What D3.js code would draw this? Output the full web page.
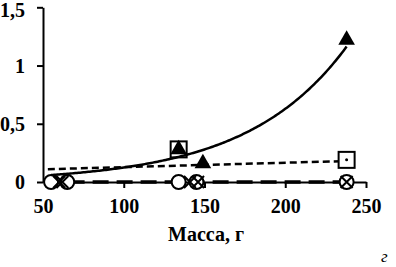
<!DOCTYPE html>
<html><head><meta charset="utf-8">
<script src="https://cdn.jsdelivr.net/npm/d3@7"></script>
<style>body{margin:0;background:#fff}svg{display:block}</style>
</head><body>
<script>
// ---- data ----
const xTicks = [50, 100, 150, 200, 250];
const yTicks = [0, 0.5, 1, 1.5];
const yTickLabels = ["0", "0,5", "1", "1,5"];
const xTitle = "Масса, г";
const panelLabel = "г";

const circleMass = [55, 65, 134, 145, 238];
const circleVals = [0, 0, 0, 0, 0];
const crossMass = [60, 62, 141, 146, 238];
const crossVals = [0, 0, 0, 0, 0];
const squareMass = [134, 238];
const squareVals = [0.28, 0.19];
const triangleMass = [134, 149, 238];
const triangleVals = [0.28, 0.16, 1.22];

// trend lines
const expTrendA = 0.0246, expTrendB = 0.0162;        // solid exponential (triangles)
const expTrendRange = [55, 238];
const linTrend = [[53, 0.11], [238, 0.18]];          // short-dash (squares)
const zeroTrend = [[51, 0.0], [238, 0.0]];           // long-dash (circles)

// ---- drawing ----
const W = 396, H = 267;
const svg = d3.select("body").append("svg").attr("width", W).attr("height", H);
const x = d3.scaleLinear().domain([50, 250]).range([43, 366]);
const y = d3.scaleLinear().domain([0, 1.5]).range([182, 7.3]);
const font = "'Liberation Serif','Times New Roman',serif";

// axes
const xAxis = svg.append("g").attr("transform", "translate(0,182)")
  .call(d3.axisBottom(x).tickValues(xTicks).tickSize(6).tickSizeOuter(0).tickPadding(11));
const yAxis = svg.append("g").attr("transform", "translate(43,0)")
  .call(d3.axisLeft(y).tickValues(yTicks).tickSize(6).tickSizeOuter(0).tickPadding(12)
    .tickFormat((d, i) => yTickLabels[i]));
[xAxis, yAxis].forEach(g => {
  g.select(".domain").attr("stroke", "#000").attr("stroke-width", 2);
  g.selectAll(".tick line").attr("stroke", "#000").attr("stroke-width", 2);
  g.selectAll("text").attr("font-family", font).attr("font-weight", "bold")
    .attr("font-size", 20).attr("fill", "#000");
});
yAxis.selectAll("text").attr("dy", d => d === 1.5 ? "0.45em" : "0.34em");
xAxis.selectAll(".tick").filter(d => d === 50).select("line").remove();

// trend lines
const line = d3.line().x(d => x(d[0])).y(d => y(d[1]));
const expPts = d3.range(expTrendRange[0], expTrendRange[1] + 0.5, 1)
  .map(m => [m, expTrendA * Math.exp(expTrendB * m)]);
svg.append("path").attr("d", line(zeroTrend)).attr("fill", "none")
  .attr("stroke", "#000").attr("stroke-width", 3.5).attr("stroke-dasharray", "16,8");
svg.append("path").attr("d", line(linTrend)).attr("fill", "none")
  .attr("stroke", "#000").attr("stroke-width", 2.5).attr("stroke-dasharray", "7,4");

// circles
svg.append("g").selectAll("circle").data(circleMass).join("circle")
  .attr("cx", (d) => x(d)).attr("cy", (d, i) => y(circleVals[i])).attr("r", 7)
  .attr("fill", "#fff").attr("stroke", "#000").attr("stroke-width", 2);
// crosses
svg.append("g").selectAll("path").data(crossMass).join("path")
  .attr("d", (d, i) => {
    const cx = x(d), cy = y(crossVals[i]), s = 6;
    return `M${cx - s},${cy - s}L${cx + s},${cy + s}M${cx - s},${cy + s}L${cx + s},${cy - s}`;
  }).attr("stroke", "#000").attr("stroke-width", 2);
// squares
svg.append("g").selectAll("rect").data(squareMass).join("rect")
  .attr("x", d => x(d) - 8).attr("y", (d, i) => y(squareVals[i]) - 8)
  .attr("width", 16).attr("height", 16)
  .attr("fill", "#fff").attr("stroke", "#000").attr("stroke-width", 2);
svg.append("g").selectAll("circle").data(squareMass).join("circle")
  .attr("cx", d => x(d)).attr("cy", (d, i) => y(squareVals[i])).attr("r", 1.5).attr("fill", "#000");
// triangles
svg.append("g").selectAll("path").data(triangleMass).join("path")
  .attr("transform", (d, i) => `translate(${x(d)},${y(triangleVals[i])})`)
  .attr("d", d3.symbol(d3.symbolTriangle, 120)).attr("fill", "#000");

svg.append("path").attr("d", line(expPts)).attr("fill", "none")
  .attr("stroke", "#000").attr("stroke-width", 2.5);

// titles
svg.append("text").attr("x", 206).attr("y", 241).attr("text-anchor", "middle")
  .attr("font-family", font).attr("font-weight", "bold").attr("font-size", 20).text(xTitle);
svg.append("text").attr("x", 381).attr("y", 262)
  .attr("font-family", font).attr("font-style", "italic")
  .attr("font-size", 17).text(panelLabel);
</script>
</body></html>
